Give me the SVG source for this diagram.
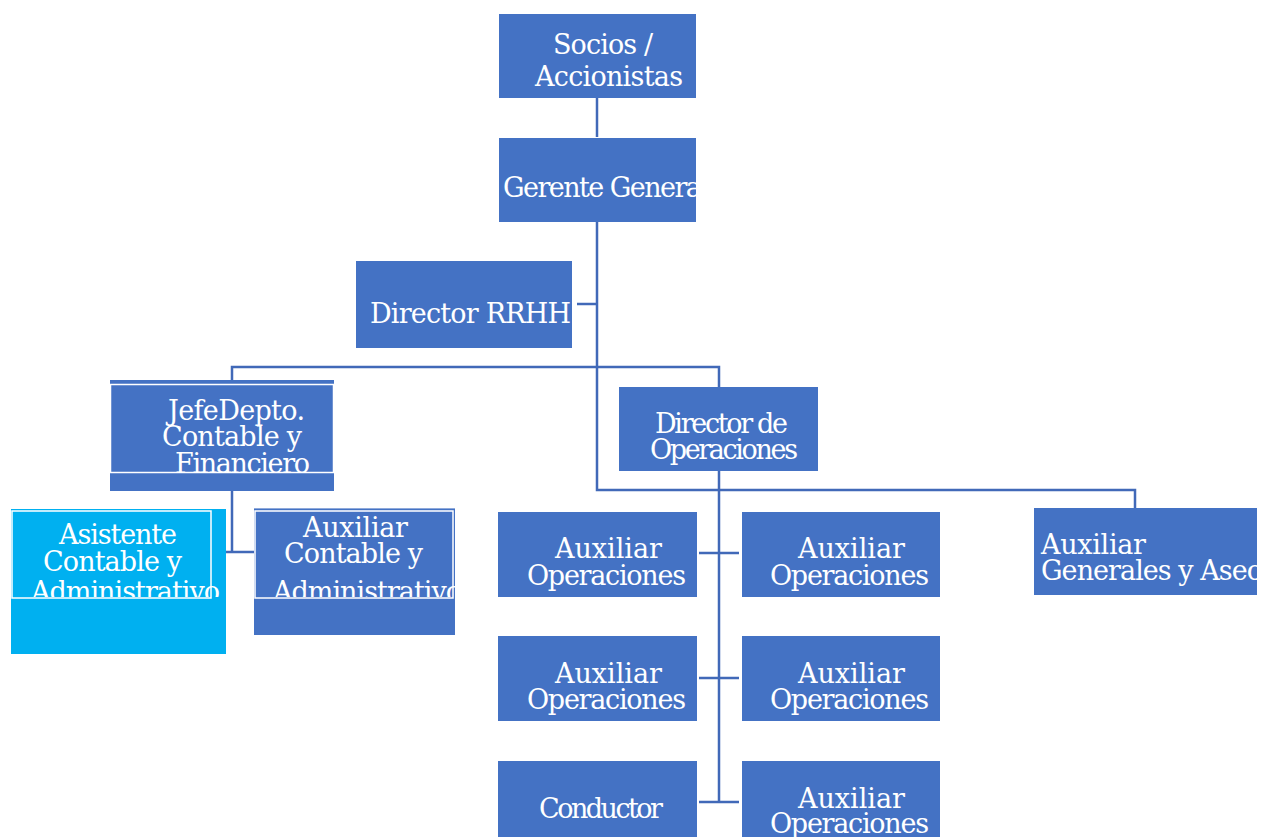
<svg xmlns="http://www.w3.org/2000/svg" width="1261" height="837" viewBox="0 0 1261 837">
<style>
.box{fill:#4472C4;}
.cyan{fill:#00B0F0;}
.frame{fill:none;stroke:#FFFFFF;stroke-width:1.5;}
.t{font-family:'DejaVu Serif','Liberation Serif',serif;font-size:27px;fill:#FFFFFF;}
.c{fill:none;stroke:#4169B8;stroke-width:2.5;}
</style>
<defs>
<clipPath id="cpGer"><rect x="499" y="138" width="197" height="84"/></clipPath>
<clipPath id="cpJefe"><rect x="110" y="380" width="224" height="92"/></clipPath>
<clipPath id="cpAsis"><rect x="11" y="509" width="215" height="88"/></clipPath>
<clipPath id="cpAuxC"><rect x="254" y="508" width="201" height="89"/></clipPath>
<clipPath id="cpGen"><rect x="1034" y="508" width="223" height="87"/></clipPath>
</defs>
<rect width="1261" height="837" fill="#FFFFFF"/>
<g id="connectors">
<path class="c" d="M597 98 V137"/>
<path class="c" d="M597 222 V490 H1135 V508"/>
<path class="c" d="M577 304 H597"/>
<path class="c" d="M232 380 V367 H719 V387"/>
<path class="c" d="M719 471 V802"/>
<path class="c" d="M699 553 H739 M699 678 H739 M699 802 H739"/>
<path class="c" d="M232 491 V552 M226 552 H255"/>
</g>
<g id="socios">
<rect class="box" x="499" y="14" width="197" height="84"/>
<text class="t" x="553" y="54" textLength="100">Socios /</text>
<text class="t" x="535" y="86" textLength="148">Accionistas</text>
</g>
<g id="gerente">
<rect class="box" x="499" y="138" width="197" height="84"/>
<text class="t" x="503" y="197" textLength="206" clip-path="url(#cpGer)">Gerente General</text>
</g>
<g id="rrhh">
<rect class="box" x="356" y="261" width="216" height="87"/>
<text class="t" x="370" y="323" textLength="201">Director RRHH</text>
</g>
<g id="jefe">
<rect class="box" x="110" y="380" width="224" height="111"/>
<rect class="frame" x="110.5" y="384.5" width="223" height="88"/>
<g clip-path="url(#cpJefe)">
<text class="t" x="168" y="420" textLength="137">JefeDepto.</text>
<text class="t" x="162" y="446" textLength="140">Contable y</text>
<text class="t" x="175" y="473" textLength="135">Financiero</text>
</g>
</g>
<g id="dirops">
<rect class="box" x="619" y="387" width="199" height="84"/>
<text class="t" x="655" y="433" textLength="133">Director de</text>
<text class="t" x="650" y="459" textLength="148">Operaciones</text>
</g>
<g id="asistente">
<rect class="cyan" x="11" y="509" width="215" height="145"/>
<rect class="frame" x="12" y="511" width="199" height="87"/>
<g clip-path="url(#cpAsis)">
<text class="t" x="59" y="544" textLength="118">Asistente</text>
<text class="t" x="43" y="571" textLength="139">Contable y</text>
<text class="t" x="31" y="601" textLength="189">Administrativo</text>
</g>
</g>
<g id="auxcontable">
<rect class="box" x="254" y="508" width="201" height="127"/>
<line x1="254" y1="508.5" x2="455" y2="508.5" stroke="#8EA9DB" stroke-width="1"/>
<rect class="frame" x="255" y="511" width="198" height="87"/>
<g clip-path="url(#cpAuxC)">
<text class="t" x="303" y="537" textLength="105">Auxiliar</text>
<text class="t" x="284" y="563" textLength="139">Contable y</text>
<text class="t" x="273" y="601" textLength="189">Administrativo</text>
</g>
</g>
<g id="auxop1">
<rect class="box" x="498" y="512" width="199" height="85"/>
<text class="t" x="555" y="558" textLength="107">Auxiliar</text>
<text class="t" x="527" y="585" textLength="159">Operaciones</text>
</g>
<g id="auxop2">
<rect class="box" x="742" y="512" width="198" height="85"/>
<text class="t" x="798" y="558" textLength="107">Auxiliar</text>
<text class="t" x="770" y="585" textLength="159">Operaciones</text>
</g>
<g id="auxop3">
<rect class="box" x="498" y="636" width="199" height="85"/>
<text class="t" x="555" y="683" textLength="107">Auxiliar</text>
<text class="t" x="527" y="709" textLength="159">Operaciones</text>
</g>
<g id="auxop4">
<rect class="box" x="742" y="636" width="198" height="85"/>
<text class="t" x="798" y="683" textLength="107">Auxiliar</text>
<text class="t" x="770" y="709" textLength="159">Operaciones</text>
</g>
<g id="conductor">
<rect class="box" x="498" y="761" width="199" height="85"/>
<text class="t" x="539" y="818" textLength="124">Conductor</text>
</g>
<g id="auxop5">
<rect class="box" x="742" y="761" width="198" height="85"/>
<text class="t" x="798" y="808" textLength="107">Auxiliar</text>
<text class="t" x="770" y="833" textLength="159">Operaciones</text>
</g>
<g id="generales">
<rect class="box" x="1034" y="508" width="223" height="87"/>
<g clip-path="url(#cpGen)">
<text class="t" x="1041" y="554" textLength="105">Auxiliar</text>
<text class="t" x="1041" y="580" textLength="222">Generales y Aseo</text>
</g>
</g>
</svg>
